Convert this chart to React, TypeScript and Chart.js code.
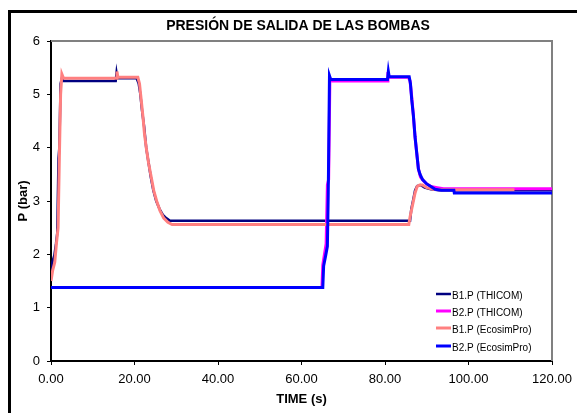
import React, { useEffect, useRef } from "react";
import { Chart, registerables } from "chart.js";

Chart.register(...registerables);

const FONT = "'Liberation Sans', Arial, Helvetica, sans-serif";

const chartTitle = "PRESIÓN DE SALIDA DE LAS BOMBAS";
const xTitle = "TIME (s)";
const yTitle = "P (bar)";

const seriesNames = ["B1.P (THICOM)", "B2.P (THICOM)", "B1.P (EcosimPro)", "B2.P (EcosimPro)"];
const seriesColors = ["#000080", "#FF00FF", "#FF8080", "#0000FF"];

// B1.P (THICOM)
const b1ThicomT = [0, 0.3, 0.8, 1.2, 1.5, 1.8, 2.0, 2.3, 2.6, 3.0, 15.5, 15.7, 15.9, 16.3, 20.5, 21.0, 21.4, 21.8, 22.3, 22.8, 23.3, 23.9, 24.5, 25.2, 26.0, 26.8, 27.6, 28.5, 30, 86.0, 86.3, 86.7, 87.2, 87.7, 88.5, 89.5, 91, 93, 96, 120];
const b1ThicomP = [1.6, 1.85, 1.98, 2.2, 2.4, 3.8, 4.0, 5.2, 5.3, 5.25, 5.25, 5.4, 5.3, 5.3, 5.3, 5.2, 5.0, 4.7, 4.4, 4.0, 3.75, 3.45, 3.2, 3.0, 2.85, 2.74, 2.68, 2.63, 2.63, 2.63, 2.85, 3.0, 3.2, 3.28, 3.3, 3.25, 3.22, 3.2, 3.2, 3.2];

// B2.P (THICOM)
const b2ThicomT = [0, 64.9, 65.1, 65.5, 65.9, 66.2, 66.5, 66.8, 67.0, 67.4, 80.5, 80.7, 80.9, 85.6, 86.0, 86.4, 86.8, 87.2, 87.6, 88.0, 88.5, 89.2, 90, 91, 92.5, 94, 120];
const b2ThicomP = [1.38, 1.38, 1.8, 2.0, 2.2, 3.3, 3.4, 5.3, 5.28, 5.25, 5.25, 5.42, 5.32, 5.32, 5.25, 4.95, 4.6, 4.2, 3.9, 3.6, 3.45, 3.38, 3.32, 3.27, 3.25, 3.23, 3.23];

// B1.P (EcosimPro)
const b1EcoT = [0, 0.4, 0.9, 1.3, 1.7, 2.0, 2.3, 2.6, 3.0, 15.6, 15.8, 16.0, 16.3, 20.8, 21.2, 21.6, 22.0, 22.4, 22.9, 23.4, 24.0, 24.6, 25.3, 26.1, 27.0, 28.0, 29.0, 85.7, 86.0, 86.4, 86.8, 87.2, 87.7, 88.3, 89.0, 90.0, 91.5, 93, 111];
const b1EcoP = [1.5, 1.7, 1.85, 2.2, 2.5, 3.8, 5.0, 5.38, 5.3, 5.3, 5.43, 5.33, 5.32, 5.32, 5.2, 4.9, 4.6, 4.25, 3.95, 3.7, 3.45, 3.2, 3.0, 2.82, 2.68, 2.6, 2.56, 2.56, 2.7, 2.85, 3.0, 3.15, 3.27, 3.3, 3.3, 3.25, 3.22, 3.21, 3.21];

// B2.P (EcosimPro)
const b2EcoT = [0, 65.1, 65.3, 65.8, 66.2, 66.4, 66.7, 67.0, 67.3, 67.6, 80.6, 80.8, 81.0, 85.8, 86.1, 86.4, 86.8, 87.2, 87.6, 88.0, 88.4, 89.0, 90, 91, 92, 93.5, 96.5, 96.6, 120];
const b2EcoP = [1.38, 1.38, 1.78, 1.98, 2.15, 3.1, 5.35, 5.28, 5.28, 5.28, 5.28, 5.43, 5.33, 5.33, 5.2, 4.9, 4.6, 4.2, 3.9, 3.6, 3.5, 3.4, 3.32, 3.27, 3.22, 3.2, 3.2, 3.15, 3.15];

const xMin = 0;
const xMax = 120;
const xStep = 20;
const yMin = 0;
const yMax = 6;
const yStep = 1;

const toPoints = (t: number[], p: number[]) => t.map((x, i) => ({ x, y: p[i] }));

export default function App() {
  const canvasRef = useRef<HTMLCanvasElement | null>(null);

  useEffect(() => {
    document.documentElement.style.overflow = "hidden";
    document.body.style.overflow = "hidden";
    const canvas = canvasRef.current;
    if (!canvas) return;

    const seriesT = [b1ThicomT, b2ThicomT, b1EcoT, b2EcoT];
    const seriesP = [b1ThicomP, b2ThicomP, b1EcoP, b2EcoP];
    const widths = [2.5, 3, 3, 3];
    const orders = [4, 3, 2, 1];

    const decor = {
      id: "decor",
      beforeDatasetsDraw(chart: any) {
        const { ctx, chartArea } = chart;
        ctx.save();
        ctx.strokeStyle = "#808080";
        ctx.lineWidth = 2;
        ctx.beginPath();
        ctx.moveTo(chartArea.left, chartArea.top);
        ctx.lineTo(chartArea.right, chartArea.top);
        ctx.lineTo(chartArea.right, chartArea.bottom);
        ctx.stroke();
        ctx.restore();
      },
      afterDraw(chart: any) {
        const { ctx, chartArea, width, height } = chart;
        ctx.save();
        // outer frame
        ctx.strokeStyle = "#000";
        ctx.lineWidth = 3;
        ctx.beginPath();
        ctx.moveTo(1.5, height + 5);
        ctx.lineTo(1.5, 3.5);
        ctx.lineTo(width - 1.5, 3.5);
        ctx.lineTo(width - 1.5, height + 5);
        ctx.stroke();

        ctx.fillStyle = "#000";
        ctx.textAlign = "center";
        ctx.textBaseline = "middle";
        ctx.font = `bold 14px ${FONT}`;
        ctx.fillText(chartTitle, 290, 18);
        ctx.font = `bold 13px ${FONT}`;
        ctx.fillText(xTitle, (chartArea.left + chartArea.right) / 2, 391);
        ctx.save();
        ctx.translate(15, (chartArea.top + chartArea.bottom) / 2);
        ctx.rotate(-Math.PI / 2);
        ctx.fillText(yTitle, 0, 0);
        ctx.restore();

        // legend
        const lx = 428;
        const rows = [287, 304, 321, 339];
        ctx.font = `10px ${FONT}`;
        ctx.textAlign = "left";
        seriesNames.forEach((name, i) => {
          ctx.strokeStyle = seriesColors[i];
          ctx.lineWidth = i === 0 ? 2.5 : 3;
          ctx.beginPath();
          ctx.moveTo(lx, rows[i] - 1);
          ctx.lineTo(lx + 15, rows[i] - 1);
          ctx.stroke();
          ctx.fillStyle = "#000";
          ctx.fillText(name, lx + 16, rows[i] + 1);
        });
        ctx.restore();
      },
    };

    const chart = new Chart(canvas, {
      type: "line",
      data: {
        datasets: seriesNames.map((name, i) => ({
          label: name,
          data: toPoints(seriesT[i], seriesP[i]),
          borderColor: seriesColors[i],
          backgroundColor: seriesColors[i],
          borderWidth: widths[i],
          pointRadius: 0,
          tension: 0,
          fill: false,
          order: orders[i],
        })),
      },
      options: {
        responsive: false,
        animation: false,
        devicePixelRatio: 1,
        layout: { padding: { left: 0, right: 33, top: 33, bottom: 0 } },
        plugins: {
          legend: { display: false },
          title: { display: false },
          tooltip: { enabled: false },
        },
        scales: {
          x: {
            type: "linear",
            min: xMin,
            max: xMax,
            afterFit(scale: any) {
              scale.height = 52;
            },
            ticks: {
              stepSize: xStep,
              color: "#000",
              padding: 7,
              maxRotation: 0,
              font: { family: FONT, size: 13 },
              callback: (v: any) => Number(v).toFixed(2),
            },
            grid: { display: true, drawOnChartArea: false, drawTicks: true, tickLength: 4, color: "#000" },
            border: { display: true, color: "#000", width: 2 },
          },
          y: {
            type: "linear",
            min: yMin,
            max: yMax,
            afterFit(scale: any) {
              scale.width = 43;
            },
            ticks: {
              stepSize: yStep,
              color: "#000",
              padding: 7,
              font: { family: FONT, size: 13 },
            },
            grid: { display: true, drawOnChartArea: false, drawTicks: true, tickLength: 4, color: "#000" },
            border: { display: true, color: "#000", width: 2 },
          },
        },
      },
      plugins: [decor],
    });

    return () => chart.destroy();
  }, []);

  return (
    <div style={{ width: 577, height: 405 }}>
      <canvas ref={canvasRef} width={577} height={405} style={{ display: "block" }} />
    </div>
  );
}
